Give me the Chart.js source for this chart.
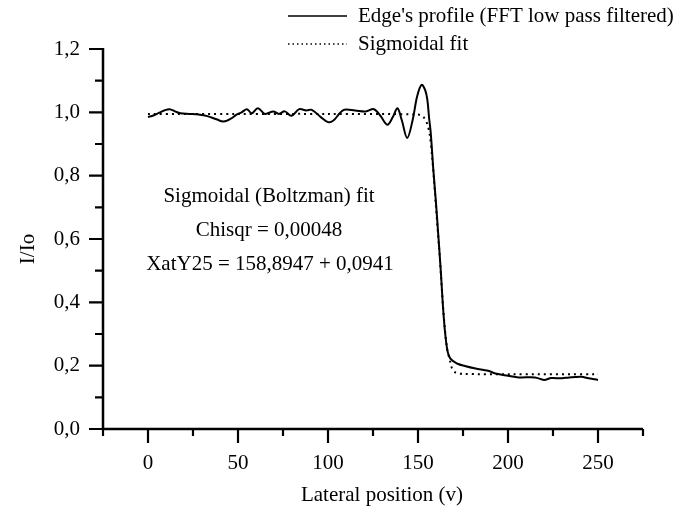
<!DOCTYPE html>
<html>
<head>
<meta charset="utf-8">
<script src="https://cdn.jsdelivr.net/npm/chart.js@4/dist/chart.umd.min.js"></script>
<style>
html,body{margin:0;padding:0;background:#fff;}
#wrap{position:relative;width:682px;height:510px;}
</style>
</head>
<body>
<div id="wrap"><canvas id="c" width="682" height="510"></canvas></div>
<script>
// Edge's profile (FFT low pass filtered)
const profileX = [0,3,6,9,12,15,18,23,28,33,38,42,46,49,52,55,57.6,61,65,69.6,72.7,76,79.7,84,88,91,96,100,103,106.5,109,115,121,125.5,129,133,136,138.6,141,144,147,149.5,152,154,155.2,156.2,157.1,158.5,160,161.3,162.6,164.4,166.2,168,172,176,182,189,193,200,206,215,220,224,230,234,241,244,250];
const profileY = [0.985,0.990,0.998,1.006,1.010,1.003,0.997,0.995,0.993,0.988,0.978,0.971,0.980,0.992,1.000,1.010,0.997,1.013,0.995,1.003,0.995,1.003,0.989,1.010,1.006,1.008,0.985,0.969,0.974,0.997,1.008,1.006,1.003,1.010,0.990,0.961,0.985,1.013,0.975,0.919,0.975,1.050,1.087,1.070,1.039,0.980,0.934,0.820,0.714,0.610,0.504,0.346,0.252,0.222,0.206,0.199,0.191,0.184,0.175,0.168,0.163,0.163,0.155,0.161,0.160,0.163,0.165,0.161,0.155];
// Sigmoidal fit
const fitX = [0,50,100,150,153,155,156.5,158,160,162,164,166,168,169,171,175,200,250];
const fitY = [0.995,0.995,0.995,0.993,0.985,0.965,0.930,0.850,0.700,0.550,0.380,0.260,0.210,0.190,0.178,0.174,0.173,0.173];
// ticks
const xTicks = [0,50,100,150,200,250];
const xMinor = [-25,25,75,125,175,225,275];
const yTicks = [0,0.2,0.4,0.6,0.8,1.0,1.2];
const yMinor = [0.1,0.3,0.5,0.7,0.9,1.1];
const legendLabels = ["Edge's profile (FFT low pass filtered)", "Sigmoidal fit"];
const noteLines = ["Sigmoidal (Boltzman) fit", "Chisqr = 0,00048", "XatY25 = 158,8947 + 0,0941"];
const xTitle = 'Lateral position (v)';
const yTitle = 'I/Io';

const FONT = "'Liberation Serif','Times New Roman',serif";
const toPts = (xs, ys) => xs.map((x, i) => ({x: x, y: ys[i]}));

const decor = {
  id: 'decor',
  afterDraw(chart) {
    const ctx = chart.ctx;
    const xs = chart.scales.x, ys = chart.scales.y;
    const y0 = ys.getPixelForValue(0), x0 = xs.left;
    ctx.save();
    ctx.strokeStyle = '#000';
    ctx.lineWidth = 2.5;
    ctx.lineCap = 'butt';
    // axis lines
    ctx.beginPath();
    ctx.moveTo(x0, ys.getPixelForValue(1.2) - 1);
    ctx.lineTo(x0, y0);
    ctx.moveTo(x0 - 1, y0);
    ctx.lineTo(xs.right, y0);
    ctx.stroke();
    // ticks
    ctx.lineWidth = 2.2;
    ctx.beginPath();
    xTicks.forEach(v => { const p = xs.getPixelForValue(v); ctx.moveTo(p, y0); ctx.lineTo(p, y0 + 14); });
    xMinor.forEach(v => { const p = xs.getPixelForValue(v); ctx.moveTo(p, y0); ctx.lineTo(p, y0 + 7); });
    yTicks.forEach(v => { const p = ys.getPixelForValue(v); ctx.moveTo(x0, p); ctx.lineTo(x0 - 14, p); });
    yMinor.forEach(v => { const p = ys.getPixelForValue(v); ctx.moveTo(x0, p); ctx.lineTo(x0 - 8, p); });
    ctx.stroke();
    ctx.fillStyle = '#000';
    ctx.textBaseline = 'middle';
    // axis titles
    ctx.font = '21px ' + FONT;
    ctx.textAlign = 'center';
    ctx.fillText(xTitle, 382, 495);
    ctx.save();
    ctx.translate(28, 249);
    ctx.rotate(-Math.PI / 2);
    ctx.fillText(yTitle, 0, 0);
    ctx.restore();
    // annotation text
    ctx.font = '21px ' + FONT;
    ctx.fillText(noteLines[0], 269, 196);
    ctx.fillText(noteLines[1], 269, 230);
    ctx.fillText(noteLines[2], 270, 264);
    // legend
    ctx.textAlign = 'left';
    ctx.lineWidth = 1.6;
    ctx.beginPath();
    ctx.moveTo(288, 16); ctx.lineTo(347, 16);
    ctx.stroke();
    ctx.setLineDash([1.5, 3]);
    ctx.lineWidth = 1.3;
    ctx.beginPath();
    ctx.moveTo(288, 44); ctx.lineTo(347, 44);
    ctx.stroke();
    ctx.setLineDash([]);
    ctx.fillText(legendLabels[0], 358, 16);
    ctx.fillText(legendLabels[1], 358, 44);
    ctx.restore();
  }
};

new Chart(document.getElementById('c'), {
  type: 'scatter',
  data: {
    datasets: [
      {
        label: legendLabels[0],
        data: toPts(profileX, profileY),
        showLine: true,
        borderColor: '#000',
        borderWidth: 2,
        pointRadius: 0,
        tension: 0.35,
        fill: false
      },
      {
        label: legendLabels[1],
        data: toPts(fitX, fitY),
        showLine: true,
        borderColor: '#000',
        borderWidth: 2,
        borderDash: [2, 4],
        pointRadius: 0,
        tension: 0.3,
        fill: false
      }
    ]
  },
  options: {
    responsive: false,
    animation: false,
    layout: { padding: { left: 0, top: 49, right: 39, bottom: 0 } },
    plugins: { legend: { display: false }, tooltip: { enabled: false } },
    scales: {
      x: {
        type: 'linear',
        min: -25, max: 275,
        afterBuildTicks: s => { s.ticks = xTicks.map(v => ({value: v})); },
        afterFit: s => { s.height = 81; },
        grid: { display: false, drawTicks: false },
        border: { display: false },
        ticks: { color: '#000', font: { family: FONT, size: 21 }, padding: 22, maxRotation: 0 },
        title: { display: false }
      },
      y: {
        type: 'linear',
        min: 0, max: 1.2,
        afterBuildTicks: s => { s.ticks = yTicks.map(v => ({value: v})); },
        afterFit: s => { s.width = 103; },
        grid: { display: false, drawTicks: false },
        border: { display: false },
        ticks: { color: '#000', font: { family: FONT, size: 21 }, padding: 23,
          callback: v => Number(v).toFixed(1).replace('.', ',') },
        title: { display: false }
      }
    }
  },
  plugins: [decor]
});
</script>
</body>
</html>
